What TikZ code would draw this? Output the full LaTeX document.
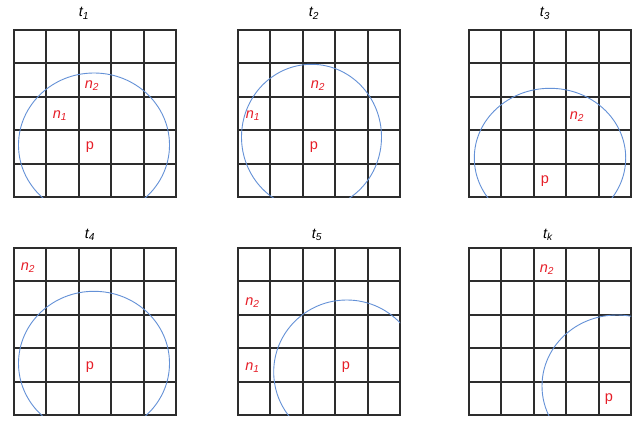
\documentclass[tikz,border=0pt]{standalone}
\usepackage{fontspec}
\setmainfont{Liberation Sans}
\definecolor{gridc}{RGB}{45,45,45}
\definecolor{lblred}{RGB}{230,30,40}
\definecolor{arcblue}{RGB}{100,145,215}
\newcommand\mypanel[2]{%
  \foreach \dx in {0,32,65,97,130,162}
    \draw[gridline] ({#1+\dx},#2) -- ({#1+\dx},{#2+167});
  \foreach \dy in {0,33,67,100,134,167}
    \draw[gridline] (#1,{#2+\dy}) -- ({#1+162},{#2+\dy});
  }
\newcommand\myarc[6]{%
  \begin{scope}
    \clip (#1,#2) rectangle ({#1+162},{#2+167});
    \draw[arcline] (#3,#4) ellipse [x radius=#5pt, y radius=#6pt];
  \end{scope}}
\begin{document}
\begin{tikzpicture}[x=1pt,y=-1pt,
  gridline/.style={draw=gridc, line width=1.6pt, line cap=rect},
  arcline/.style={draw=arcblue, line width=0.9pt},
  lbl/.style={text=lblred, font=\fontsize{14.5}{16}\selectfont, inner sep=0pt},
  ttl/.style={font=\fontsize{14.5}{16}\selectfont, inner sep=0pt, anchor=base}]
\useasboundingbox (0,0) rectangle (644,422);
\fill[white] (0,0) rectangle (644,422);

% panel 1
\mypanel{14}{30}
\myarc{14}{30}{94}{145}{75.5}{72}
\node[ttl] (t1) at (84,17) {\itshape t\textsubscript{1}};
\node[lbl] (n2a) at (92,86) {\itshape n\textsubscript{2}};
\node[lbl] (n1a) at (60,116) {\itshape n\textsubscript{1}};
\node[lbl] (pa) at (90,147) {p};

% panel 2
\mypanel{238}{30}
\myarc{238}{30}{311.5}{137}{70}{72.7}
\node[ttl] (t2) at (314,17) {\itshape t\textsubscript{2}};
\node[lbl] (n2b) at (318,86) {\itshape n\textsubscript{2}};
\node[lbl] (n1b) at (253,116) {\itshape n\textsubscript{1}};
\node[lbl] (pb) at (314,147) {p};

% panel 3
\mypanel{469}{30}
\myarc{469}{30}{550}{158}{75.7}{69.7}
\node[ttl] (t3) at (545,17) {\itshape t\textsubscript{3}};
\node[lbl] (n2c) at (577,117) {\itshape n\textsubscript{2}};
\node[lbl] (pc) at (545,181) {p};

% panel 4
\mypanel{14}{248}
\myarc{14}{248}{94}{363.3}{75.5}{72}
\node[ttl] (t4) at (90,238) {\itshape t\textsubscript{4}};
\node[lbl] (n2d) at (28,268) {\itshape n\textsubscript{2}};
\node[lbl] (pd) at (90,367) {p};

% panel 5
\mypanel{238}{248}
\myarc{238}{248}{346.7}{372}{73}{72}
\node[ttl] (t5) at (317,238) {\itshape t\textsubscript{5}};
\node[lbl] (n2e) at (252.5,303) {\itshape n\textsubscript{2}};
\node[lbl] (n1e) at (252.5,368) {\itshape n\textsubscript{1}};
\node[lbl] (pe) at (346,367) {p};

% panel 6
\mypanel{469}{248}
\myarc{469}{248}{617}{386}{75}{71}
\node[ttl] (tk) at (548,238) {\itshape t\textsubscript{k}};
\node[lbl] (n2f) at (547,270) {\itshape n\textsubscript{2}};
\node[lbl] (pf) at (609,399) {p};
\end{tikzpicture}
\end{document}
